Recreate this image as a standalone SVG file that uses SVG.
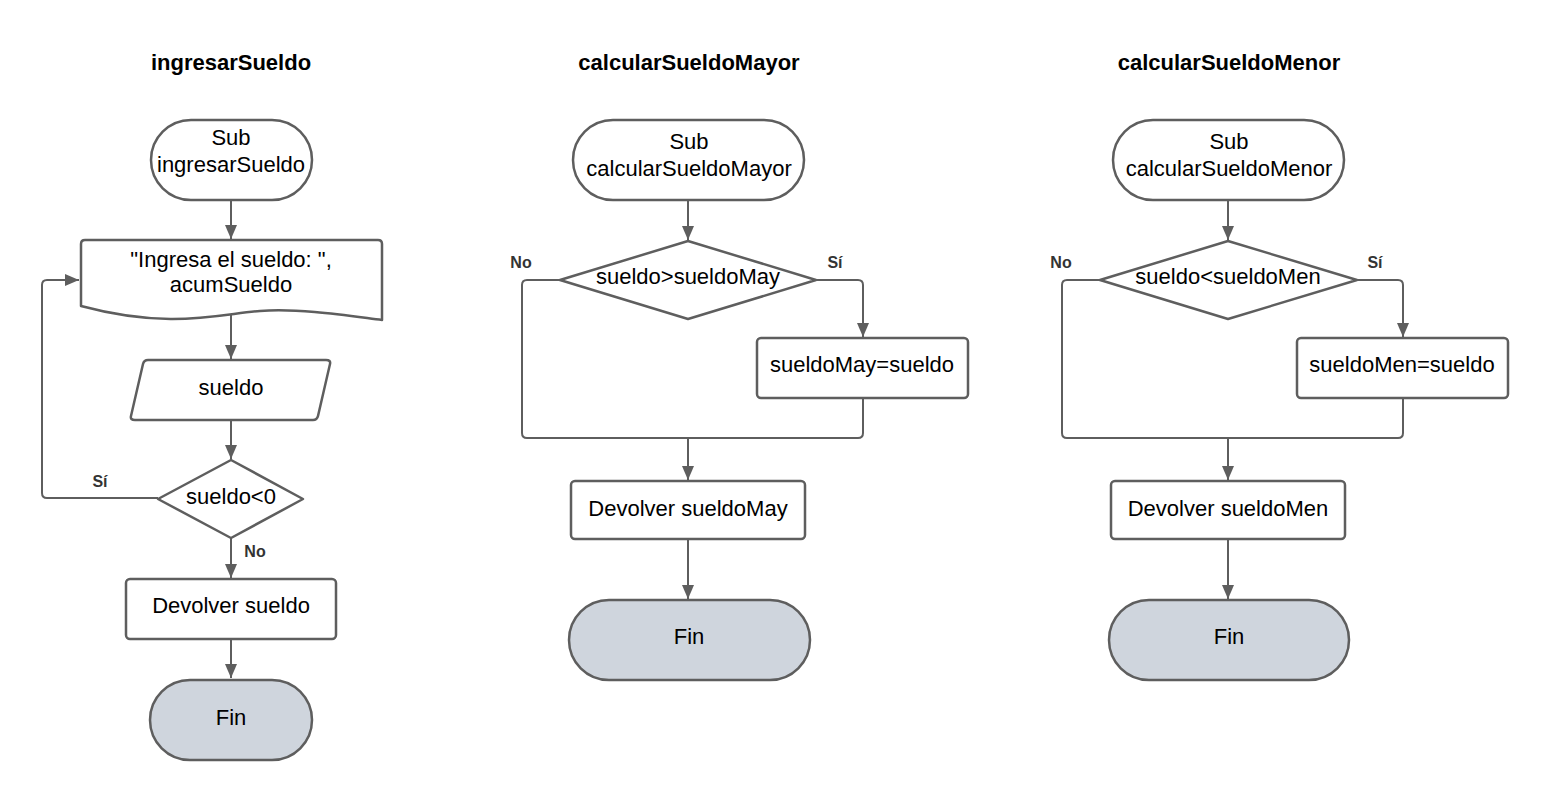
<svg xmlns="http://www.w3.org/2000/svg" width="1549" height="800" viewBox="0 0 1549 800">
<defs>
<marker id="arr" markerUnits="userSpaceOnUse" markerWidth="14" markerHeight="12" refX="14" refY="6" orient="auto">
<path d="M0,0 L14,6 L0,12 z" fill="#5e5e5e"/>
</marker>
</defs>
<style>
.s{fill:#ffffff;stroke:#5e5e5e;stroke-width:2.5;stroke-linejoin:round}
.f{fill:#cfd5dd;stroke:#5e5e5e;stroke-width:2.5}
.c{fill:none;stroke:#5e5e5e;stroke-width:2;stroke-linejoin:round}
.a{marker-end:url(#arr)}
.t{font-family:"Liberation Sans",Arial,sans-serif;font-size:22px;fill:#000000;text-anchor:middle}
.h{font-family:"Liberation Sans",Arial,sans-serif;font-size:22px;font-weight:bold;fill:#000000;text-anchor:middle}
.l{font-family:"Liberation Sans",Arial,sans-serif;font-size:16px;font-weight:bold;fill:#333333;text-anchor:middle}
</style>
<rect x="0" y="0" width="1549" height="800" fill="#ffffff"/>

<g id="titles">
<text class="h" x="231" y="70">ingresarSueldo</text>
<text class="h" x="689" y="70">calcularSueldoMayor</text>
<text class="h" x="1229" y="70">calcularSueldoMenor</text>
</g>

<g id="connectors">
<!-- column 1 -->
<line class="c a" x1="231" y1="201" x2="231" y2="239"/>
<line class="c a" x1="231" y1="313" x2="231" y2="359"/>
<line class="c a" x1="231" y1="421" x2="231" y2="459"/>
<path class="c a" d="M158,498 L47,498 Q42,498 42,493 L42,285 Q42,280 47,280 L79,280"/>
<line class="c a" x1="231" y1="538" x2="231" y2="578"/>
<line class="c a" x1="231" y1="640" x2="231" y2="678"/>
<!-- column 2 -->
<line class="c a" x1="688" y1="201" x2="688" y2="240"/>
<path class="c a" d="M816,280 L858,280 Q863,280 863,285 L863,337"/>
<path class="c" d="M560,280 L527,280 Q522,280 522,285 L522,433 Q522,438 527,438 L858,438 Q863,438 863,433 L863,399"/>
<line class="c a" x1="688" y1="438" x2="688" y2="480"/>
<line class="c a" x1="688" y1="540" x2="688" y2="599"/>
<!-- column 3 -->
<line class="c a" x1="1228" y1="201" x2="1228" y2="240"/>
<path class="c a" d="M1357,280 L1398,280 Q1403,280 1403,285 L1403,337"/>
<path class="c" d="M1100,280 L1067,280 Q1062,280 1062,285 L1062,433 Q1062,438 1067,438 L1398,438 Q1403,438 1403,433 L1403,399"/>
<line class="c a" x1="1228" y1="438" x2="1228" y2="480"/>
<line class="c a" x1="1228" y1="540" x2="1228" y2="599"/>
</g>

<g id="labels">
<text class="l" x="100" y="487">Sí</text>
<text class="l" x="255" y="557">No</text>
<text class="l" x="521" y="268">No</text>
<text class="l" x="835" y="268">Sí</text>
<text class="l" x="1061" y="268">No</text>
<text class="l" x="1375" y="268">Sí</text>
</g>

<!-- column 1 nodes -->
<g id="start1">
<rect class="s" x="151" y="120" width="161" height="80" rx="40"/>
<text class="t" x="231" y="145">Sub</text>
<text class="t" x="231" y="172">ingresarSueldo</text>
</g>
<g id="out1">
<path class="s" d="M85,240 L378,240 Q382,240 382,244 L382,320 C350,316 300,308 260,311 C220,314 170,330 81,306 L81,244 Q81,240 85,240 Z"/>
<text class="t" x="231" y="267">"Ingresa el sueldo: ",</text>
<text class="t" x="231" y="292">acumSueldo</text>
</g>
<g id="in1">
<path class="s" d="M148,360 L326,360 Q331,360 330,364 L318,416 Q317,420 313,420 L135,420 Q130,420 131,416 L143,364 Q144,360 148,360 Z"/>
<text class="t" x="231" y="395">sueldo</text>
</g>
<g id="dec1">
<path class="s" d="M231,460 L303,499 L231,538 L158,499 Z"/>
<text class="t" x="231" y="504">sueldo&lt;0</text>
</g>
<g id="ret1">
<rect class="s" x="126" y="579" width="210" height="60" rx="4"/>
<text class="t" x="231" y="613">Devolver sueldo</text>
</g>
<g id="end1">
<rect class="f" x="150" y="680" width="162" height="80" rx="40"/>
<text class="t" x="231" y="725">Fin</text>
</g>

<!-- column 2 nodes -->
<g id="start2">
<rect class="s" x="573" y="120" width="231" height="80" rx="40"/>
<text class="t" x="689" y="149">Sub</text>
<text class="t" x="689" y="176">calcularSueldoMayor</text>
</g>
<g id="dec2">
<path class="s" d="M688,241 L816,280 L688,319 L560,280 Z"/>
<text class="t" x="688" y="284">sueldo&gt;sueldoMay</text>
</g>
<g id="asg2">
<rect class="s" x="757" y="338" width="211" height="60" rx="4"/>
<text class="t" x="862" y="372">sueldoMay=sueldo</text>
</g>
<g id="ret2">
<rect class="s" x="571" y="481" width="234" height="58" rx="4"/>
<text class="t" x="688" y="516">Devolver sueldoMay</text>
</g>
<g id="end2">
<rect class="f" x="569" y="600" width="241" height="80" rx="40"/>
<text class="t" x="689" y="644">Fin</text>
</g>

<!-- column 3 nodes -->
<g id="start3">
<rect class="s" x="1113" y="120" width="231" height="80" rx="40"/>
<text class="t" x="1229" y="149">Sub</text>
<text class="t" x="1229" y="176">calcularSueldoMenor</text>
</g>
<g id="dec3">
<path class="s" d="M1228,241 L1357,280 L1228,319 L1100,280 Z"/>
<text class="t" x="1228" y="284">sueldo&lt;sueldoMen</text>
</g>
<g id="asg3">
<rect class="s" x="1297" y="338" width="211" height="60" rx="4"/>
<text class="t" x="1402" y="372">sueldoMen=sueldo</text>
</g>
<g id="ret3">
<rect class="s" x="1111" y="481" width="234" height="58" rx="4"/>
<text class="t" x="1228" y="516">Devolver sueldoMen</text>
</g>
<g id="end3">
<rect class="f" x="1109" y="600" width="240" height="80" rx="40"/>
<text class="t" x="1229" y="644">Fin</text>
</g>
</svg>
